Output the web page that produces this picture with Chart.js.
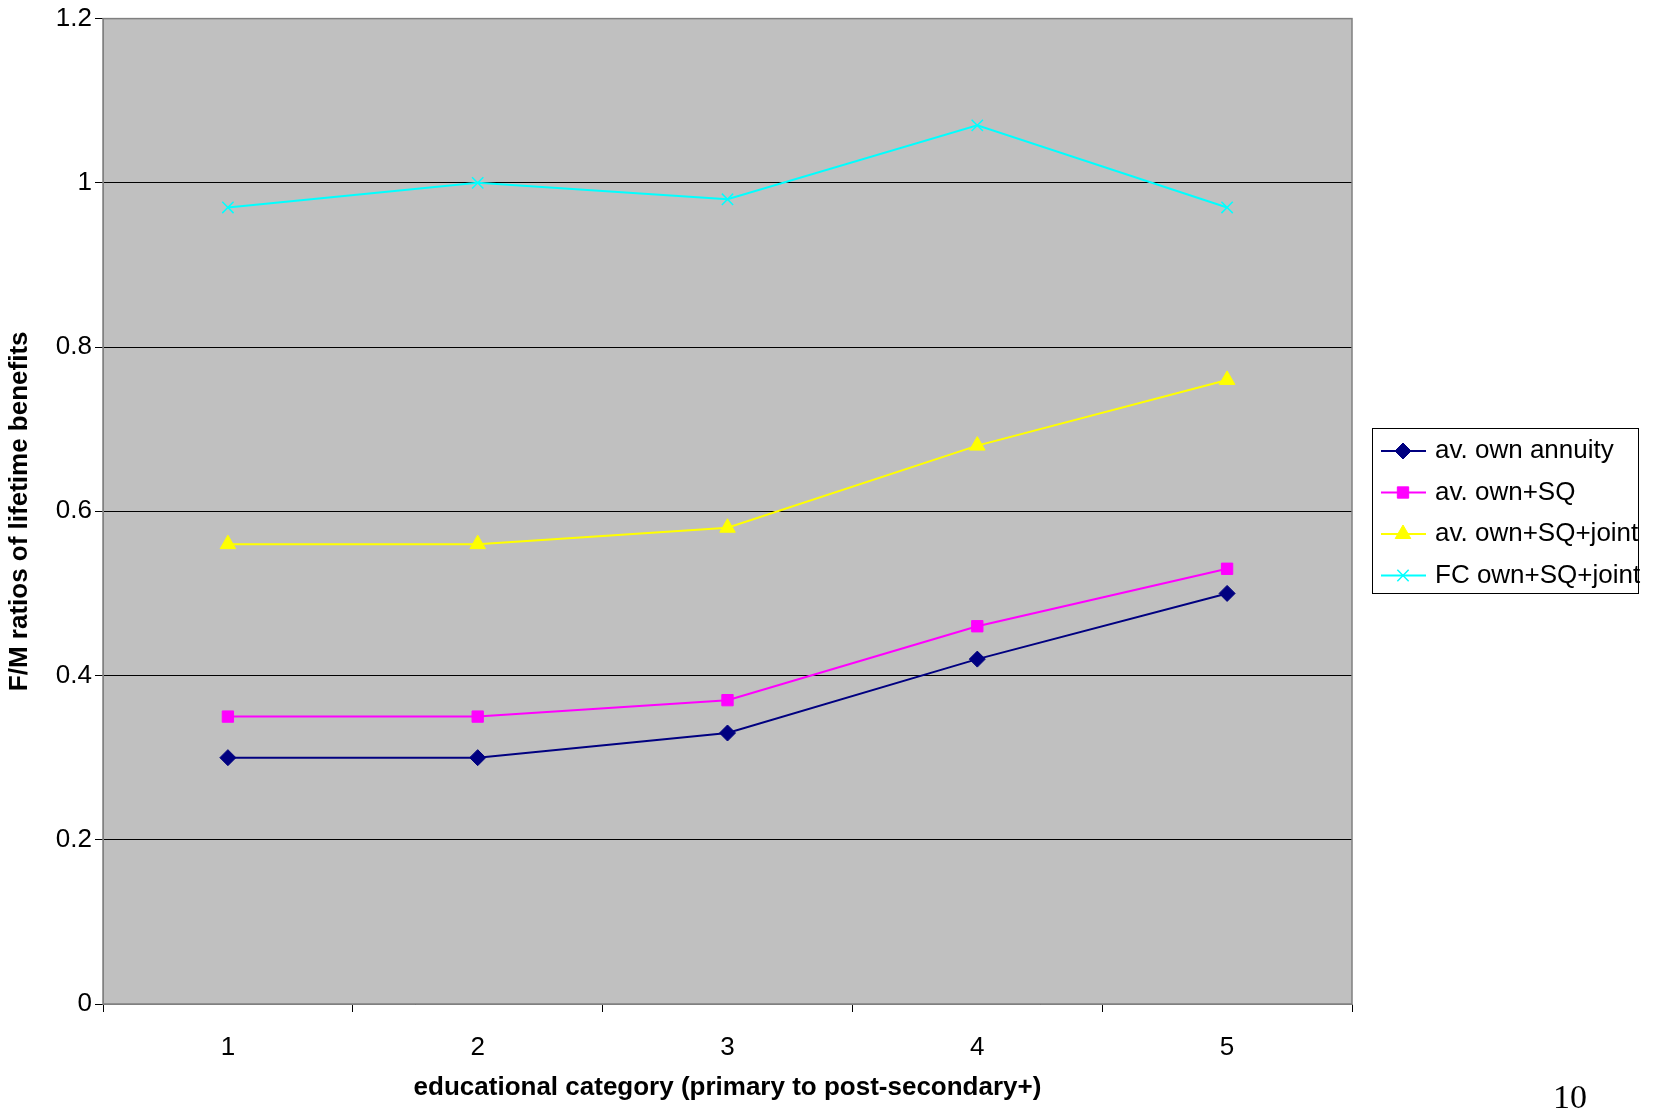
<!DOCTYPE html>
<html><head><meta charset="utf-8">
<script src="https://cdn.jsdelivr.net/npm/chart.js@4"></script>
<style>html,body{margin:0;padding:0;background:#fff;overflow:hidden}
#wrap{position:relative;width:1665px;height:1112px}
#pg{position:absolute;left:1553px;top:1078px;font:34px "Liberation Serif",serif}</style>
</head><body><div id="wrap"><canvas id="c" width="1665" height="1112"></canvas><div id="pg">10</div></div>
<script>
const categories=['1','2','3','4','5'];
const ownAnnuity=[0.30,0.30,0.33,0.42,0.50];
const ownSQ=[0.35,0.35,0.37,0.46,0.53];
const ownSQJoint=[0.56,0.56,0.58,0.68,0.76];
const fcOwnSQJoint=[0.97,1.00,0.98,1.07,0.97];
const seriesNames=['av. own annuity','av. own+SQ','av. own+SQ+joint','FC own+SQ+joint'];
const colors=['#000080','#FF00FF','#FFFF00','#00FFFF'];
const styles=['rectRot','rect','triangle','crossRot'];
const radii=[8,8,9,8];
const data=[ownAnnuity,ownSQ,ownSQJoint,fcOwnSQJoint];
const F='"Liberation Sans",Arial,sans-serif';
const FS=26;
const bg={id:'bg',beforeDraw(ch){const a=ch.chartArea,x=ch.ctx;x.save();x.fillStyle='#C0C0C0';x.fillRect(a.left,a.top,a.width,a.height);x.restore();},
afterDraw(ch){const a=ch.chartArea,x=ch.ctx;x.save();x.strokeStyle='#808080';x.lineWidth=1.5;x.strokeRect(a.left,a.top,a.width,a.height);
x.strokeStyle='#000';x.lineWidth=1;x.strokeRect(1372.5,428.5,266,165);
x.font=FS+'px '+F;x.textBaseline='middle';
seriesNames.forEach((n,i)=>{const y=451+i*41.5;x.strokeStyle=colors[i];x.lineWidth=2;x.beginPath();x.moveTo(1381,y);x.lineTo(1426,y);x.stroke();
x.fillStyle=colors[i];x.lineWidth=styles[i]==='crossRot'?1.5:1;
Chart.helpers.drawPoint(x,{pointStyle:styles[i],radius:radii[i],borderWidth:styles[i]==='crossRot'?1.5:1},1403,y);
x.fillStyle='#000';x.fillText(n,1435,y);});
x.restore();}};
new Chart(document.getElementById('c'),{type:'line',
data:{labels:categories,datasets:data.map((d,i)=>({label:seriesNames[i],data:d,borderColor:colors[i],backgroundColor:colors[i],borderWidth:2,pointStyle:styles[i],pointRadius:radii[i],pointBorderWidth:styles[i]==='crossRot'?1.5:1,tension:0}))},
options:{responsive:false,animation:false,devicePixelRatio:1,
layout:{padding:{left:0,right:313,top:17,bottom:5}},
plugins:{legend:{display:false},tooltip:{enabled:false}},
scales:{
x:{offset:true,grid:{offset:true,drawOnChartArea:false,color:'#000',tickLength:8},border:{color:'#808080'},
ticks:{color:'#000',font:{size:FS,family:F},padding:20},
title:{display:true,text:'educational category (primary to post-secondary+)',color:'#000',font:{size:FS,weight:'bold',family:F},padding:{top:16}},
afterFit(s){s.height=103;}},
y:{min:0,max:1.2,ticks:{stepSize:0.2,color:'#000',font:{size:FS,family:F},callback:v=>+v.toFixed(1)+''},
grid:{color:'#000',tickLength:8},border:{color:'#808080'},
title:{display:true,text:'F/M ratios of lifetime benefits',color:'#000',font:{size:FS,weight:'bold',family:F}},
afterFit(s){s.width=103;}}}},
plugins:[bg]});
</script></body></html>
